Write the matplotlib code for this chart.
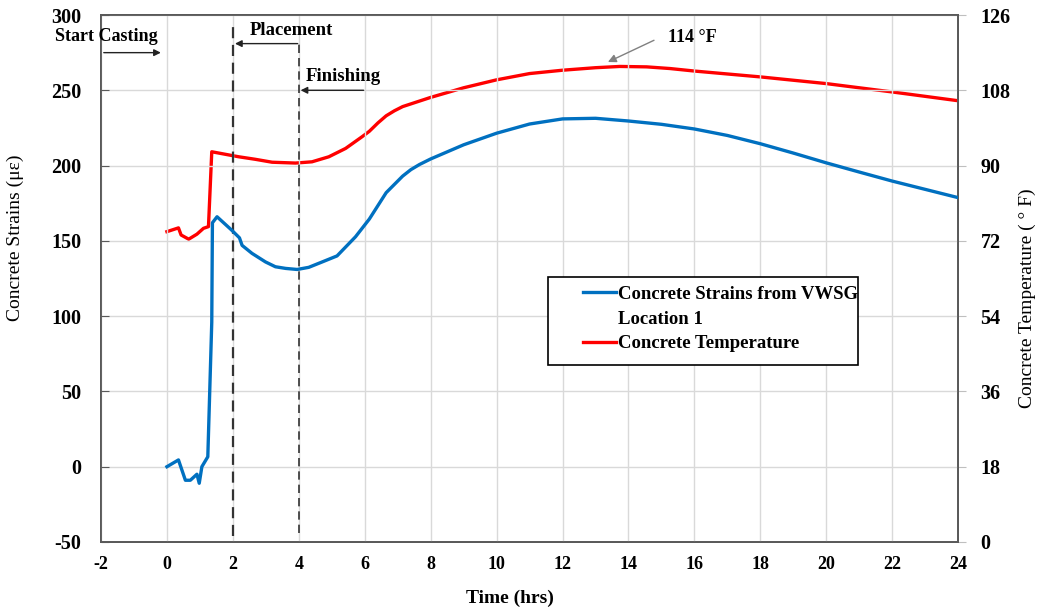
import matplotlib
matplotlib.use("Agg")
import matplotlib.pyplot as plt
from matplotlib.lines import Line2D
from matplotlib.patches import Rectangle

# strain series (hrs, micro-strain)
strain_t = [0.0, 0.35, 0.56, 0.71, 0.91, 0.98, 1.06, 1.24, 1.36, 1.38, 1.52,
            1.97, 2.2, 2.28, 2.58, 2.99, 3.29, 3.6, 3.95, 4.3, 4.71, 5.16,
            5.72, 6.14, 6.65, 7.15, 7.4, 7.66, 8.0, 9.0, 10.0, 11.0, 12.0, 13.0,
            14.0, 15.0, 16.0, 17.0, 18.0, 19.0, 20.0, 21.0, 22.0, 23.0, 24.0]
strain = [0.0, 4.5, -9.0, -9.0, -5.0, -11.0, 0.0, 6.6, 96.0, 162.0, 166.0,
          157.0, 152.0, 147.0, 141.7, 136.0, 132.8, 131.7, 131.0, 132.4, 136.0, 140.0,
          152.7, 164.5, 182.0, 193.0, 197.3, 200.7, 204.4, 213.8, 221.5, 227.6, 231.0, 231.4,
          229.6, 227.4, 224.3, 220.0, 214.5, 208.3, 201.8, 195.7, 189.7, 184.2, 178.7]

# temperature series (hrs, deg F)
temp_t = [0.0, 0.35, 0.43, 0.66, 0.91, 1.11, 1.26, 1.36, 1.77, 2.18, 2.68,
          3.19, 3.9, 4.4, 4.91, 5.42, 5.92, 6.14, 6.4, 6.65, 6.9, 7.15, 8.0, 9.0,
          10.0, 11.0, 12.0, 13.0, 13.74, 14.55, 15.26, 16.0, 17.0, 18.0, 20.0, 22.0, 24.0]
temp = [74.2, 75.1, 73.4, 72.4, 73.6, 75.0, 75.4, 93.3, 92.7, 92.1, 91.5,
        90.8, 90.6, 90.9, 92.1, 94.1, 96.9, 98.2, 100.2, 101.9, 103.1, 104.1, 106.3, 108.6,
        110.5, 112.0, 112.8, 113.4, 113.7, 113.6, 113.2, 112.6, 111.9, 111.2, 109.6, 107.6, 105.5]

x_ticks = list(range(-2, 25, 2))
strain_ticks = list(range(-50, 301, 50))
temp_ticks = list(range(0, 127, 18))

plt.rcParams["font.family"] = ["Liberation Serif", "DejaVu Serif"]
plt.rcParams["axes.unicode_minus"] = False

fig = plt.figure(figsize=(10.39, 6.10), dpi=100)
ax = fig.add_axes([0.0972, 0.1115, 0.8250, 0.8639])
ax2 = ax.twinx()

ax.set_xlim(-2, 24)
ax.set_ylim(-50, 300)
ax2.set_ylim(0, 126)
ax.set_xticks(x_ticks)
ax.set_yticks(strain_ticks)
ax2.set_yticks(temp_ticks)

ax.grid(True, color="#d9d9d9", linewidth=1.0)
ax.set_axisbelow(True)

for a in (ax, ax2):
    for s in a.spines.values():
        s.set_color("#595959")
        s.set_linewidth(1.3)

ax.tick_params(axis="x", length=0, pad=10, labelsize=13)
ax.tick_params(axis="y", direction="in", length=6, color="#595959", pad=14, labelsize=14.5)
ax2.tick_params(axis="y", direction="out", length=6, color="#bfbfbf", pad=10, labelsize=14.5)
for lbl in ax.get_xticklabels() + ax.get_yticklabels() + ax2.get_yticklabels():
    lbl.set_fontweight("bold")

# event markers
ax.plot([2, 2], [-46, 294], color="#333333", linestyle=(0, (5, 3)), linewidth=1.6, zorder=3)
ax.plot([4, 4], [-44, 281], color="#333333", linestyle=(0, (5, 3)), linewidth=1.2, zorder=3)

l1, = ax.plot(strain_t, strain, color="#0070c0", linewidth=2.4, zorder=4)
l2, = ax2.plot(temp_t, temp, color="#ff0000", linewidth=2.4, zorder=4)

arrow = dict(arrowstyle="-|>", color="#222222", lw=1.0, mutation_scale=10)
ax.annotate("", xy=(-0.1, 275), xytext=(-2.0, 275), arrowprops=arrow, annotation_clip=False)
ax.text(-3.38, 286, "Start Casting", fontsize=13, fontweight="bold", va="center",
        clip_on=False)
ax.annotate("", xy=(1.98, 281), xytext=(4.05, 281), arrowprops=arrow)
ax.text(2.5, 290, "Placement", fontsize=13.5, fontweight="bold", va="center")
ax.annotate("", xy=(3.97, 250), xytext=(6.05, 250), arrowprops=arrow)
ax.text(4.2, 259, "Finishing", fontsize=13.5, fontweight="bold", va="center")
ax.annotate("", xy=(13.3, 268), xytext=(14.85, 284),
            arrowprops=dict(arrowstyle="-|>", color="#808080", lw=1.0, mutation_scale=12))
ax.text(15.2, 285, "114 °F", fontsize=13, fontweight="bold", va="center")

# legend: framed box drawn separately so the handles sit like the original
ax.set_zorder(ax2.get_zorder() + 1)
ax.patch.set_visible(False)
ax.add_patch(Rectangle((0.522, 0.336), 0.361, 0.167, transform=ax.transAxes,
                       facecolor="white", edgecolor="black", linewidth=1.2, zorder=9))
blank = Line2D([], [], color="none")
leg = ax.legend(handles=[l1, blank, l2],
                labels=["Concrete Strains from VWSG", "Location 1", "Concrete Temperature"],
                loc="upper left", bbox_to_anchor=(0.5624, 0.486),
                prop={"family": ["Liberation Serif"], "weight": "bold", "size": 13.5},
                frameon=False, handlelength=1.75, handletextpad=0.1, borderaxespad=0,
                borderpad=0, labelspacing=0.4)
leg.set_zorder(10)

fig.text(0.491, 0.0197, "Time (hrs)", fontsize=14, fontweight="bold", ha="center", va="center")
fig.text(0.0144, 0.611, "Concrete Strains (με)", fontsize=14, rotation=90,
         ha="center", va="center")
fig.text(0.989, 0.511, "Concrete Temperature ( ° F)", fontsize=14, rotation=90,
         ha="center", va="center")

fig.savefig("out.png", dpi=100)
